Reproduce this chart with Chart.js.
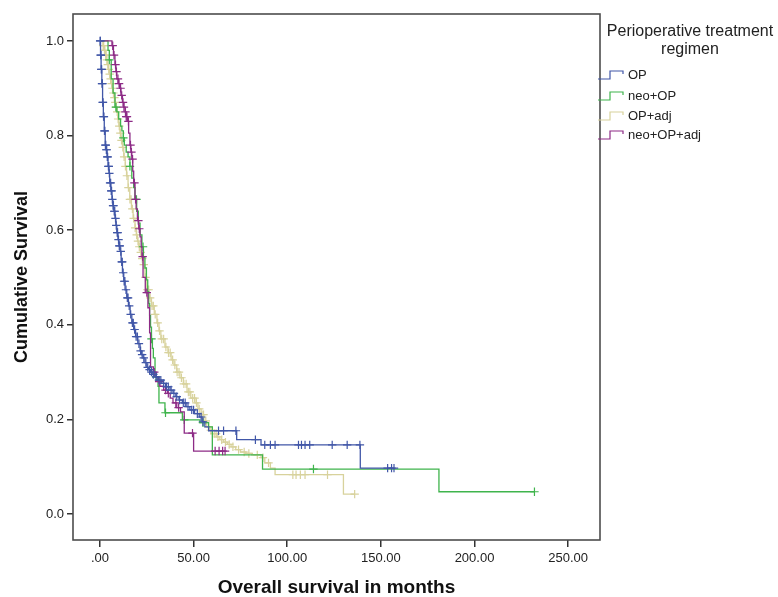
<!DOCTYPE html>
<html>
<head>
<meta charset="utf-8">
<script src="https://cdn.jsdelivr.net/npm/chart.js@4"></script>
<style>
  html, body { margin: 0; padding: 0; background: #fff; }
  #wrap { width: 778px; height: 597px; }
</style>
</head>
<body>
<div id="wrap"><canvas id="kmChart" width="778" height="597"></canvas></div>
<script>
// Kaplan-Meier steps (months, cumulative survival)
const groups = ["OP", "neo+OP", "OP+adj", "neo+OP+adj"];
const colors = ["#4157a8", "#3fb44c", "#d8d29c", "#8d2b86"];

const opTime = [0, 0.3, 0.6, 1, 1.4, 1.8, 2.3, 2.8, 3.3, 3.8, 4.3, 4.8, 5.2, 5.8, 6.4, 6.9, 7.4, 8, 8.5, 9, 9.6, 10.1, 10.7, 11.3, 12, 12.7, 13.4, 14.3, 15.2, 16.1, 17, 18, 19, 20.2, 21.4, 22.2, 23, 24, 25, 26, 27, 28.2, 29.4, 31, 33, 35, 37.4, 39, 40.5, 42.2, 44, 46, 48, 50.5, 53, 54.5, 56, 58, 73, 86, 139, 157];
const opSurv = [1.0, 0.97, 0.94, 0.91, 0.87, 0.84, 0.81, 0.78, 0.77, 0.755, 0.735, 0.72, 0.70, 0.683, 0.665, 0.652, 0.64, 0.625, 0.61, 0.595, 0.58, 0.567, 0.555, 0.533, 0.51, 0.492, 0.474, 0.457, 0.44, 0.422, 0.404, 0.39, 0.375, 0.36, 0.345, 0.337, 0.33, 0.32, 0.31, 0.305, 0.30, 0.295, 0.29, 0.283, 0.276, 0.269, 0.262, 0.255, 0.248, 0.241, 0.235, 0.227, 0.22, 0.212, 0.205, 0.195, 0.184, 0.176, 0.157, 0.146, 0.097, 0.097];
const opCensor = [0.1, 0.2, 0.4, 0.5, 0.7, 0.9, 1.1, 1.3, 1.5, 1.6, 1.9, 2.1, 2.4, 2.6, 2.9, 3.1, 3.4, 3.6, 3.9, 4.1, 4.5, 4.7, 5.0, 5.4, 5.7, 6.0, 6.2, 6.6, 7.0, 7.2, 7.6, 7.9, 8.3, 8.7, 9.2, 9.4, 9.9, 10.3, 10.6, 11.1, 11.6, 11.9, 12.4, 12.9, 13.3, 13.9, 14.6, 15.0, 15.6, 16.4, 17.3, 17.8, 18.5, 19.3, 20.0, 20.8, 21.7, 22.5, 23.4, 24.5, 25.5, 26.5, 27.5, 28.5, 30.0, 31.5, 32.5, 34.0, 35.5, 36.5, 38.0, 39.5, 41.0, 42.5, 44.5, 45.5, 47.0, 49.0, 50.0, 52.0, 54.0, 55.0, 63.3, 66, 72.6, 83, 88, 91, 93.5, 106, 107.6, 109.5, 112, 124, 132, 138.8, 153.6, 155.7, 157];

const neoTime = [0, 4.3, 5, 6, 7, 8, 9, 10, 11, 11.7, 12.5, 13, 14, 15, 16, 17, 18, 18.7, 19.6, 20.5, 21.4, 22.4, 23.2, 24, 24.8, 25.5, 26, 26.5, 27, 27.5, 28, 28.5, 29.4, 31, 31.5, 34.7, 44, 53.4, 58, 60, 86.8, 181, 232];
const neoSurv = [1.0, 0.98, 0.96, 0.92, 0.89, 0.86, 0.85, 0.835, 0.82, 0.81, 0.795, 0.78, 0.765, 0.755, 0.735, 0.71, 0.69, 0.665, 0.64, 0.615, 0.59, 0.565, 0.543, 0.52, 0.495, 0.47, 0.445, 0.42, 0.395, 0.37, 0.35, 0.33, 0.29, 0.27, 0.235, 0.214, 0.199, 0.193, 0.184, 0.125, 0.095, 0.047, 0.047];
const neoCensor = [5, 8.5, 12.5, 16, 19.5, 23, 27.5, 30, 35, 45, 55, 114, 232];

const adjTime = [0, 1.6, 2.2, 2.8, 3.5, 4, 4.5, 5, 5.5, 6, 6.5, 7, 7.5, 8, 8.5, 9, 9.5, 10.1, 10.7, 11.3, 12, 12.7, 13.5, 14.2, 15, 15.9, 16.8, 17.7, 18.7, 19.4, 20, 20.7, 21.5, 22.2, 23, 24, 25, 26.2, 27.5, 29, 30.4, 31.5, 32.5, 34.7, 36.3, 38, 39.5, 41, 42.7, 44.5, 46.5, 48.5, 50.7, 52.3, 54, 55.5, 57, 58.5, 60, 62.5, 64, 66, 68, 70, 72.5, 75, 78, 81, 86, 88, 91, 93.5, 130, 136];
const adjSurv = [1.0, 0.99, 0.98, 0.97, 0.96, 0.95, 0.94, 0.93, 0.92, 0.91, 0.90, 0.89, 0.88, 0.87, 0.86, 0.85, 0.835, 0.82, 0.805, 0.79, 0.775, 0.755, 0.735, 0.715, 0.69, 0.665, 0.645, 0.625, 0.605, 0.59, 0.577, 0.565, 0.553, 0.54, 0.527, 0.50, 0.474, 0.457, 0.44, 0.422, 0.404, 0.387, 0.37, 0.353, 0.341, 0.326, 0.315, 0.30, 0.288, 0.275, 0.258, 0.245, 0.235, 0.222, 0.21, 0.197, 0.184, 0.177, 0.17, 0.163, 0.157, 0.152, 0.147, 0.142, 0.136, 0.131, 0.128, 0.125, 0.119, 0.108, 0.097, 0.083, 0.042, 0.042];
const adjCensor = [1.7, 2.0, 2.4, 2.6, 3.0, 3.3, 3.7, 4.2, 4.7, 5.2, 5.7, 6.2, 6.7, 7.2, 7.7, 8.2, 8.7, 9.2, 9.7, 10.3, 10.9, 11.5, 12.2, 12.9, 13.6, 14.4, 15.2, 16.0, 16.6, 17.3, 18.0, 18.8, 19.6, 20.3, 21.0, 21.8, 22.6, 23.4, 24.3, 25.3, 26.0, 26.8, 27.8, 28.5, 29.5, 30.8, 31.8, 33.0, 34.0, 35.2, 36.6, 37.5, 38.8, 40.0, 41.2, 42.2, 43.5, 44.8, 46.0, 47.2, 48.0, 49.5, 50.5, 51.5, 53.0, 54.5, 55.3, 56.5, 58.0, 59.2, 61.0, 62.0, 63.0, 65.0, 67.0, 69.0, 71.0, 74.0, 77.0, 79.5, 84.0, 87.0, 90.0, 103, 104.7, 107, 109.5, 121.5, 136];

const purTime = [0, 6.4, 7.2, 8, 8.5, 9, 9.8, 10.5, 11.2, 12, 12.7, 13.4, 14, 14.7, 15.3, 16, 16.5, 17, 17.5, 18, 18.7, 19.3, 20, 20.7, 21.4, 22, 22.4, 23, 24.2, 25.6, 26.5, 27, 28.5, 30, 31, 32, 34, 36, 37.5, 39, 41, 43, 45, 50, 66.8];
const purSurv = [1.0, 0.99, 0.97, 0.95, 0.935, 0.92, 0.91, 0.90, 0.885, 0.87, 0.86, 0.85, 0.84, 0.83, 0.805, 0.78, 0.765, 0.75, 0.725, 0.70, 0.665, 0.645, 0.62, 0.603, 0.586, 0.565, 0.544, 0.50, 0.468, 0.436, 0.383, 0.311, 0.30, 0.29, 0.28, 0.27, 0.262, 0.255, 0.245, 0.235, 0.225, 0.216, 0.171, 0.133, 0.133];
const purCensor = [6.8, 7.5, 8.3, 8.8, 9.6, 10.2, 11.0, 11.6, 12.3, 12.8, 13.6, 14, 14.4, 15.2, 16.3, 16.8, 17.4, 18.4, 19.0, 20.5, 21.0, 22.8, 25, 29, 31.6, 35, 36.5, 40.5, 42, 49.4, 61.5, 63.6, 65.5, 66.8];

const xTicks = [0, 50, 100, 150, 200, 250];
const xTickLabels = [".00", "50.00", "100.00", "150.00", "200.00", "250.00"];
const yTicks = [0, 0.2, 0.4, 0.6, 0.8, 1.0];
const yTickLabels = ["0.0", "0.2", "0.4", "0.6", "0.8", "1.0"];

// value of the step curve at time t (censor marks sit on the curve)
function survAt(times, surv, t) {
  let s = surv[0];
  for (let i = 0; i < times.length; i++) {
    if (times[i] <= t) s = surv[i];
  }
  return s;
}

function curve(times, surv) {
  return times.map((t, i) => ({ x: t, y: surv[i] }));
}

function marks(times, surv, cens) {
  return cens.map(t => ({ x: t, y: survAt(times, surv, t) }));
}

// first entry ends up on top
const series = [
  [opTime, opSurv, opCensor, 0],
  [purTime, purSurv, purCensor, 3],
  [neoTime, neoSurv, neoCensor, 1],
  [adjTime, adjSurv, adjCensor, 2],
];

const datasets = [];
series.forEach(([t, s, c, g]) => {
  datasets.push({
    type: "scatter",
    data: marks(t, s, c),
    showLine: false,
    pointStyle: "cross",
    pointRadius: 4.2,
    pointBorderWidth: 1.2,
    borderColor: colors[g],
    backgroundColor: colors[g],
  });
  datasets.push({
    type: "line",
    data: curve(t, s),
    stepped: true, // horizontal first, then drop
    borderColor: colors[g],
    borderWidth: 1.3,
    pointRadius: 0,
    fill: false,
  });
});

const framePlugin = {
  id: "frame",
  afterDraw(chart) {
    const { ctx, chartArea: a } = chart;
    ctx.save();
    ctx.strokeStyle = "#4d4d4d";
    ctx.lineWidth = 1.6;
    ctx.strokeRect(a.left, a.top, a.right - a.left, a.bottom - a.top);

    // legend
    ctx.fillStyle = "#222";
    ctx.textAlign = "center";
    ctx.textBaseline = "middle";
    ctx.font = "16px 'Liberation Sans', Arial, sans-serif";
    ctx.fillText("Perioperative treatment", 690, 32);
    ctx.fillText("regimen", 690, 50);
    const itemY = [75, 96, 116, 135];
    ctx.font = "13px 'Liberation Sans', Arial, sans-serif";
    ctx.textAlign = "left";
    groups.forEach((name, i) => {
      const y = itemY[i];
      ctx.strokeStyle = colors[i];
      ctx.lineWidth = 1.2;
      ctx.beginPath();
      ctx.moveTo(598, y + 4);
      ctx.lineTo(610, y + 4);
      ctx.lineTo(610, y - 4);
      ctx.lineTo(623, y - 4);
      ctx.lineTo(623, y - 1);
      ctx.stroke();
      ctx.fillStyle = "#222";
      ctx.fillText(name, 628, y);
    });
    ctx.restore();
  },
};

new Chart(document.getElementById("kmChart").getContext("2d"), {
  data: { datasets: datasets },
  options: {
    responsive: false,
    animation: false,
    layout: { padding: { left: 0, top: 14, right: 178, bottom: 0 } },
    plugins: { legend: { display: false }, tooltip: { enabled: false } },
    scales: {
      x: {
        type: "linear",
        min: -14.4,
        max: 267,
        afterBuildTicks: (scale) => { scale.ticks = xTicks.map(v => ({ value: v })); },
        afterFit: (scale) => { scale.height = 57; },
        border: { display: false },
        grid: { drawOnChartArea: false, drawTicks: true, tickLength: 7, color: "#333", lineWidth: 1.5 },
        ticks: {
          padding: 4,
          color: "#222",
          font: { family: "'Liberation Sans', Arial, sans-serif", size: 13 },
          callback: (v) => xTickLabels[xTicks.indexOf(v)],
        },
        title: {
          display: true,
          text: "Overall survival in months",
          color: "#111",
          font: { family: "'Liberation Sans', Arial, sans-serif", size: 19, weight: "bold", lineHeight: 1 },
          padding: { top: 0, bottom: 0 },
        },
      },
      y: {
        type: "linear",
        min: -0.055,
        max: 1.057,
        afterBuildTicks: (scale) => { scale.ticks = yTicks.map(v => ({ value: v })); },
        afterFit: (scale) => { scale.width = 73; },
        border: { display: false },
        grid: { drawOnChartArea: false, drawTicks: true, tickLength: 6, color: "#333", lineWidth: 1.5 },
        ticks: {
          padding: 3,
          color: "#222",
          font: { family: "'Liberation Sans', Arial, sans-serif", size: 13 },
          callback: (v) => yTickLabels[yTicks.indexOf(v)],
        },
        title: {
          display: true,
          text: "Cumulative Survival",
          color: "#111",
          font: { family: "'Liberation Sans', Arial, sans-serif", size: 18, weight: "bold", lineHeight: 1 },
          padding: { top: 13, bottom: 0 },
        },
      },
    },
  },
  plugins: [framePlugin],
});
</script>
</body>
</html>
